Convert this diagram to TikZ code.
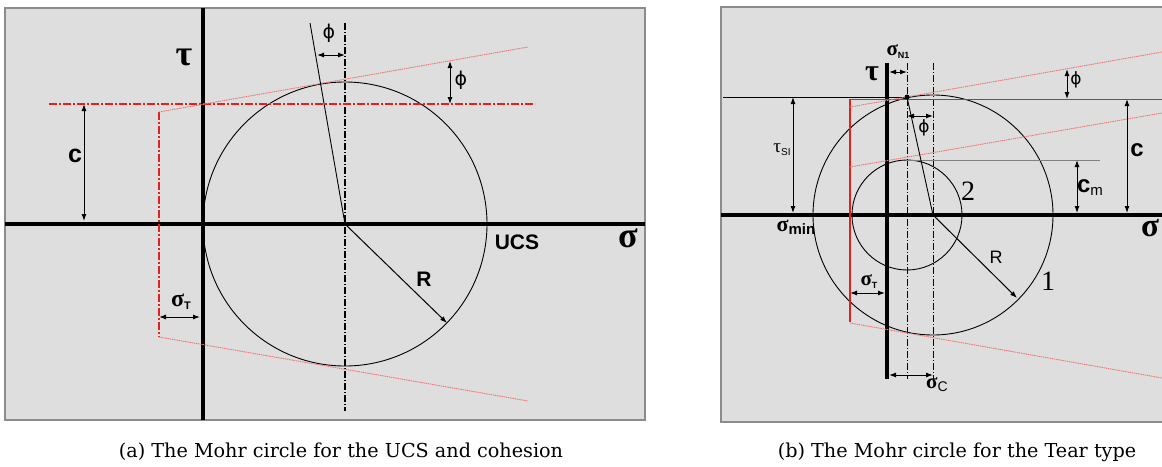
\documentclass[tikz,border=0pt]{standalone}
\usepackage{fontspec}
\usepackage{xcolor}
\usepackage{tikz}
\usetikzlibrary{arrows.meta}
\newfontfamily\sansf{Liberation Sans}
\newfontfamily\symf{Liberation Serif}
\newfontfamily\phif{DejaVu Sans}
\newfontfamily\captf{DejaVu Serif}
\definecolor{panelbg}{HTML}{DEDEDE}
\definecolor{panelrule}{HTML}{8C8C8C}
\definecolor{envred}{HTML}{E3201E}
\definecolor{envpink}{HTML}{EE7A78}
\newcommand{\fs}[1]{\fontsize{#1}{#1}\selectfont}

\begin{document}
\begin{tikzpicture}[x=1pt,y=-1pt,
      panel/.style={fill=panelbg,draw=panelrule,line width=1.2pt},
      axis/.style={line width=4.8pt},
      mohr/.style={line width=0.9pt},
      centre/.style={line width=1.1pt,dash pattern=on 7pt off 2pt on 1pt off 2pt},
      env/.style={draw=envred,line width=2.4pt,dash pattern=on 8pt off 2pt on 2pt off 2pt},
      tang/.style={draw=envpink,line width=0.9pt,dash pattern=on 1.5pt off 0.7pt},
      dim/.style={{Latex[length=7pt,width=5pt]}-{Latex[length=7pt,width=5pt]},line width=1pt},
      rad/.style={-{Latex[length=7pt,width=5pt]},line width=1pt},
      lbl/.style={inner sep=0pt},
      capt/.style={font=\captf\fs{19.2}}]
    \useasboundingbox (0,0) rectangle (1162,466);

    % (a) UCS and cohesion
    \path[panel] (5,8) rectangle (645,420);
    \coordinate (aO) at (203,224);
    \coordinate (aC) at (345,224);
    \draw[axis] (5,224) -- (645,224);
    \draw[axis] (203,8) -- (203,420);
    \draw[mohr] (aC) circle[radius=142];
    \draw[centre] (345,23) -- (345,411);
    \draw[env] (49,104) -- (535,104);
    \draw[env,line width=1.8pt] (159,112) -- (159,337);
    \draw[tang] (159,112) -- (528,47);
    \draw[tang] (159,337) -- (528,401);
    \draw[mohr] (310,23) -- (aC);
    \coordinate (aP1) at (317,55);  \coordinate (aP2) at (345,55);
    \coordinate (aQ1) at (450,61);  \coordinate (aQ2) at (450,104);
    \coordinate (aK1) at (84,104);  \coordinate (aK2) at (84,221);
    \coordinate (aT1) at (159,317); \coordinate (aT2) at (200,317);
    \coordinate (aR) at (447,323);
    \draw[dim] (aP1) -- (aP2);
    \draw[dim] (aQ1) -- (aQ2);
    \draw[dim] (aK1) -- (aK2);
    \draw[dim] (aT1) -- (aT2);
    \draw[rad] (aC) -- (aR);
    \node[lbl,font=\symf\bfseries\fs{36}] (aTau) at (184,57) {τ};
    \node[lbl,font=\symf\bfseries\fs{36}] (aSig) at (628,238) {σ};
    \node[lbl,font=\phif\fs{19}] (aPhiA) at (329,33) {ϕ};
    \node[lbl,font=\phif\fs{19}] (aPhiB) at (461,80) {ϕ};
    \node[lbl,font=\sansf\bfseries\fs{25}] (aCoh) at (75,156) {c};
    \node[lbl,font=\sansf\bfseries\fs{21}] (aUCS) at (517,242) {UCS};
    \node[lbl,font=\sansf\bfseries\fs{21}] (aRad) at (424,279) {R};
    \node[lbl,font=\symf\bfseries\fs{24}] (aSigT) at (181,302) {σ\raisebox{-3pt}{\sansf\bfseries\fs{11}T}};

    % (b) Tear type
    \path[fill=panelbg] (721,7) rectangle (1162,422);
    \draw[panelrule,line width=1.2pt] (1162,7) -- (721,7) -- (721,422) -- (1162,422);
    \coordinate (bO) at (887,215);
    \coordinate (bC) at (933,215);
    \coordinate (bM) at (907,215);
    \coordinate (bN) at (907,97);
    \draw[axis] (721,215) -- (1162,215);
    \draw[axis] (887,63) -- (887,379);
    \draw[mohr] (bC) circle[radius=120];
    \draw[mohr] (bM) circle[radius=55];
    \draw[centre,line width=0.8pt] (907,63) -- (907,379);
    \draw[centre,line width=0.8pt] (933,63) -- (933,379);
    \draw[mohr] (723,97) -- (bN);
    \draw[draw=envred,line width=1.6pt] (1162,99.5) -- (850,99.5) -- (850,322);
    \draw[tang] (850,107) -- (1162,52);
    \draw[tang] (850,167) -- (1162,113);
    \draw[tang] (850,323) -- (1162,378);
    \draw[gray,line width=0.6pt] (907,160) -- (1100,160);
    \draw[mohr] (bN) -- (bC);
    \fill (bN) circle[radius=2.5];
    \coordinate (bN1) at (889,72);  \coordinate (bN2) at (907,72);
    \coordinate (bF1) at (907,116); \coordinate (bF2) at (933,116);
    \coordinate (bG1) at (1067,69); \coordinate (bG2) at (1067,99);
    \coordinate (bS1) at (793,97);  \coordinate (bS2) at (793,213);
    \coordinate (bK1) at (1127,99); \coordinate (bK2) at (1127,213);
    \coordinate (bM1) at (1077,160); \coordinate (bM2) at (1077,213);
    \coordinate (bT1) at (850,293); \coordinate (bT2) at (885,293);
    \coordinate (bU1) at (889,375); \coordinate (bU2) at (933,375);
    \coordinate (bR) at (1017,298);
    \foreach \p in {bN,bF,bG,bS,bK,bM,bT,bU}
      \draw[dim] (\p1) -- (\p2);
    \draw[rad] (bC) -- (bR);
    \node[lbl,font=\symf\bfseries\fs{30}] (bTau) at (872,74) {τ};
    \node[lbl,font=\symf\bfseries\fs{33}] (bSig) at (1150,228) {σ};
    \node[lbl,font=\symf\bfseries\fs{21}] (bSigN) at (898,52) {σ\raisebox{-3pt}{\sansf\fs{9}N1}};
    \node[lbl,font=\phif\fs{17}] (bPhiA) at (924,128) {ϕ};
    \node[lbl,font=\phif\fs{17}] (bPhiB) at (1076,80) {ϕ};
    \node[lbl,font=\symf\fs{19}] (bTauS) at (782,150) {τ\raisebox{-3pt}{\sansf\fs{10}SI}};
    \node[lbl,font=\symf\bfseries\fs{22}] (bSigMin) at (796,227) {σ\raisebox{-3pt}{\sansf\fs{15}min}};
    \node[lbl,font=\sansf\bfseries\fs{24}] (bCoh) at (1137,150) {c};
    \node[lbl,font=\sansf\bfseries\fs{24}] (bCm) at (1090,188) {c\raisebox{-3pt}{\sansf\mdseries\fs{15}m}};
    \node[lbl,font=\symf\fs{28}] (bTwo) at (968,191) {2};
    \node[lbl,font=\symf\fs{28}] (bOne) at (1048,281) {1};
    \node[lbl,font=\sansf\fs{18}] (bRad) at (996,257) {R};
    \node[lbl,font=\symf\bfseries\fs{21}] (bSigT) at (869,282) {σ\raisebox{-3pt}{\sansf\bfseries\fs{9}T}};
    \node[lbl,font=\symf\bfseries\fs{21}] (bSigC) at (937,385) {σ\raisebox{-3pt}{\sansf\mdseries\fs{14}C}};

    % captions
    \node[capt] (capA) at (341,452) {(a) The Mohr circle for the UCS and cohesion};
    \node[capt] (capB) at (957,452) {(b) The Mohr circle for the Tear type};
  \end{tikzpicture}
\end{document}
